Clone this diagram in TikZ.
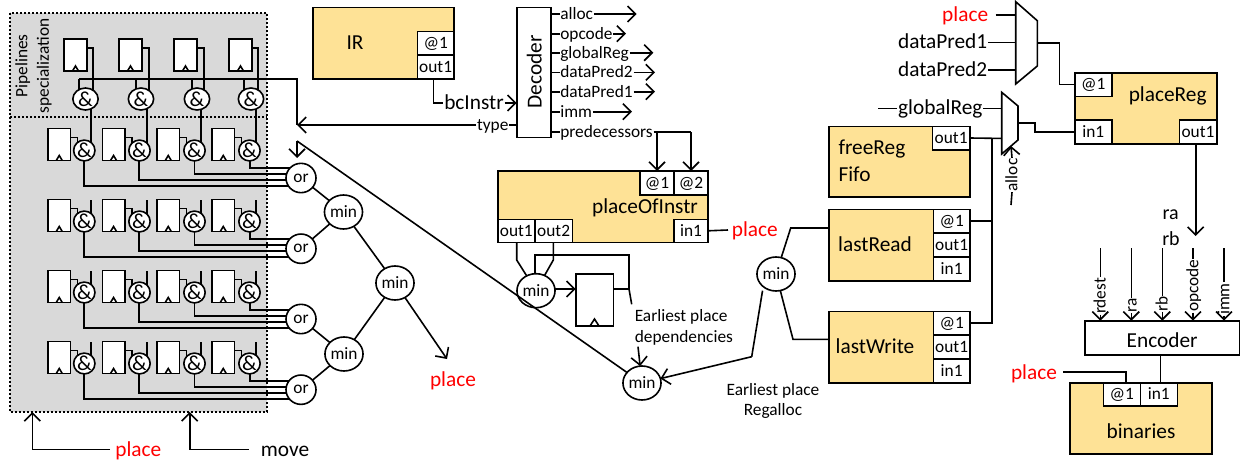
\documentclass[tikz,border=0pt]{standalone}
\usepackage{fontspec}
\setmainfont{Carlito}
\usetikzlibrary{arrows.meta,shapes.geometric}
\pgfdeclarelayer{shade}
\pgfdeclarelayer{wires}
\pgfsetlayers{shade,wires,main}
\definecolor{blockfill}{HTML}{FEE296}
\definecolor{shadefill}{HTML}{D9D9D9}
\newcommand{\boxat}[7][]{%
  \pgfmathsetmacro\bxw{(#5-#3)*0.75}%
  \pgfmathsetmacro\bxh{(#6-#4)*0.75}%
  \pgfmathsetmacro\bxx{(#5+#3)/2}%
  \pgfmathsetmacro\bxy{(#6+#4)/2}%
  \node[#1,minimum width=\bxw pt,minimum height=\bxh pt] (#2) at (\bxx,\bxy) {#7};}
\tikzset{
  lw/.style={line width=1.2pt},
  every path/.style={lw},
  >={Straight Barb[length=6pt,width=12pt]},
  lbl/.style={inner sep=0pt,font=\fontsize{13}{16.25}\selectfont,text height=10pt,text depth=2pt},
  big/.style={inner sep=0pt,font=\fontsize{16}{19}\selectfont,text height=12.5pt,text depth=2.5pt},
  redlbl/.style={big,text=red},
  blockbox/.style={draw,fill=blockfill,inner sep=0pt,outer sep=0pt},
  portbox/.style={draw,fill=white,inner sep=0pt,outer sep=0pt,font=\fontsize{13}{16}\selectfont,text height=10pt,text depth=2pt},
  regbox/.style={draw,fill=white,inner sep=0pt,outer sep=0pt},
  whitebox/.style={draw,fill=white,inner sep=0pt,outer sep=0pt,font=\fontsize{16}{19}\selectfont,text height=14pt,text depth=0pt},
  andgate/.style={draw,fill=white,ellipse,inner sep=0pt,outer sep=0pt,font=\fontsize{16}{19}\selectfont},
  orgate/.style={draw,fill=white,ellipse,inner sep=0pt,outer sep=0pt,minimum width=22.5pt,minimum height=22pt,font=\fontsize{13}{16}\selectfont},
  mingate/.style={draw,fill=white,ellipse,inner sep=0pt,outer sep=0pt,minimum width=27pt,minimum height=25.5pt,font=\fontsize{13}{16}\selectfont},
  muxbody/.style={draw,fill=white,line join=miter}
}
\begin{document}
\begin{tikzpicture}[x=0.75pt,y=-0.75pt]
\useasboundingbox (0,0) rectangle (1247,464);
% shaded area
\begin{pgfonlayer}{shade}
  \draw[fill=shadefill,dash pattern=on 1.6pt off 1.4pt] (10,13) rectangle (267,412);
  \draw[dash pattern=on 1.6pt off 1.4pt] (10,117) -- (267,117);
\end{pgfonlayer}
\node[inner sep=0pt,font=\fontsize{13}{16.25}\selectfont,rotate=90,align=center] (pipes) at (33.5,66) {Pipelines\\specialization};
% bus
\coordinate (busleft) at (79,79);
\coordinate (typetip) at (297,125);
\coordinate (backcorner) at (297,141);
\coordinate (backtip) at (297,158);
\begin{pgfonlayer}{wires}
  \draw (busleft) -- (busleft -| typetip) -- (typetip);
\end{pgfonlayer}
% top row
\foreach \ci/\gx/\ax/\ox/\dx in {1/64/85.5/93/79,2/119/141/149/135.7,3/174/197/204/192,4/229/251/258/243.7}{
  \pgfmathsetmacro\gxe{\gx+23}
  \boxat[regbox]{regT\ci}{\gx}{39}{\gxe}{71}{}
  \draw (regT\ci.south) ++(-3,0) -- ++(3,-5) -- ++(3,5);
  \node[andgate,minimum width=19pt,minimum height=16.5pt] (andT\ci) at (\ax,99) {\&};
  \begin{pgfonlayer}{wires}
    \draw (regT\ci.east |- 0,48) -| (andT\ci.center -| \ox,0);
    \draw (\dx,0 |- busleft) -- (andT\ci.center -| \dx,0);
  \end{pgfonlayer}
}
% or gates
\node[orgate] (or1) at (301,178) {or};
\node[orgate] (or2) at (301,248.7) {or};
\node[orgate] (or3) at (301,319) {or};
\node[orgate] (or4) at (301,389.7) {or};
% lower rows
\foreach \ri/\ry in {1/128.5,2/199.5,3/270.5,4/341.5}{
  \foreach \ci/\gx/\ax/\sx/\lx/\lo in {1/48/84.3/90.7/84/57.5,2/102.3/139.5/146.7/139/51.5,3/157/194.5/201/194.6/45.5,4/212/249.5/256/250/39.5}{
    \pgfmathsetmacro\gxe{\gx+22.5}
    \pgfmathsetmacro\gye{\ry+32}
    \pgfmathsetmacro\ayy{\ry+22}
    \pgfmathsetmacro\yr{\ry+9}
    \pgfmathsetmacro\xr{\gx+29.5}
    \pgfmathsetmacro\yl{\ry+\lo}
    \pgfmathsetmacro\stubtop{\ry+0.5}
    \boxat[regbox]{reg\ri\ci}{\gx}{\ry}{\gxe}{\gye}{}
    \draw (reg\ri\ci.south) ++(-3,0) -- ++(3,-5) -- ++(3,5);
    \node[andgate,minimum width=16pt,minimum height=15pt] (and\ri\ci) at (\ax,\ayy) {\&};
    \begin{pgfonlayer}{wires}
      \draw (reg\ri\ci.east |- 0,\yr) -| (and\ri\ci.center -| \xr,0);
      \draw (and\ri\ci.center -| \lx,0) |- (or\ri.center |- 0,\yl);
      \ifnum\ri=1
        \draw (andT\ci.center -| \sx,0) -- (and\ri\ci.center -| \sx,0);
      \else
        \draw (\sx,\stubtop) -- (and\ri\ci.center -| \sx,0);
      \fi
    \end{pgfonlayer}
  }
}
% min tree
\node[mingate] (min1) at (343.5,212) {min};
\node[mingate] (min2) at (344,354) {min};
\node[mingate] (min3) at (395,283) {min};
\node[redlbl] (placetree) at (453,380) {place};
\coordinate (treetip) at (447,359);
\draw (or1) -- (min1);
\draw (or2) -- (min1);
\draw (or3) -- (min2);
\draw (or4) -- (min2);
\draw (min1) -- (min3);
\draw (min2) -- (min3);
\draw[->] (min3) -- (treetip);
% bottom labels
\node[redlbl] (placebottom) at (138.3,449.5) {place};
\node[big] (movebottom) at (285,449.5) {move};
\coordinate (placeup) at (32.3,412);
\coordinate (moveup) at (189.7,412);
\coordinate (placestop) at (110,449.5);
\coordinate (movestop) at (248.7,449.5);
\draw[->] (placestop) -| (placeup);
\draw[->] (movestop) -| (moveup);
% IR
\boxat[blockbox]{ir}{312.7}{7.3}{454}{78.7}{}
\boxat[portbox]{irat}{417.3}{31.3}{454}{55}{@1}
\boxat[portbox]{irout}{417.3}{55}{454}{78.7}{out1}
\node[big] (irlabel) at (355,43) {IR};
% Decoder
\boxat[whitebox]{decoder}{516.7}{7.3}{550.7}{137.3}{}
\node[big,rotate=90] (decoderlabel) at (535,72) {Decoder};
\node[big] (bcinstr) at (474,103) {bcInstr};
\draw (irout.south -| 433.3,0) |- (bcinstr.west);
\draw[->] (bcinstr.east) -- (decoder.west |- bcinstr);
\node[lbl] (typelabel) at (492.7,125) {type};
\draw (decoder.west |- typelabel) -- (typelabel.east);
\draw[->] (typelabel.west) -- (typetip);
\foreach \nm/\yy/\tx in {alloc/14/636.7,opcode/33.7/626,globalReg/52.7/653.3,dataPred2/72.3/655,dataPred1/91.7/655,imm/111.7/632}{
  \node[lbl,anchor=west] (dec\nm) at (559.5,\yy) {\nm};
  \coordinate (tip\nm) at (\tx,\yy);
  \draw (decoder.east |- dec\nm) -- (dec\nm.west);
  \draw[->] (dec\nm.east) -- (tip\nm);
}
\node[lbl,anchor=west] (decpred) at (559.5,132) {predecessors};
\draw (decoder.east |- decpred) -- (decpred.west);
% placeOfInstr
\boxat[blockbox]{poi}{497.7}{171}{708}{242.3}{}
\boxat[portbox]{poia}{640}{171}{674}{194.7}{@1}
\boxat[portbox]{poib}{674}{171}{708}{194.7}{@2}
\boxat[portbox]{poiin}{674}{219.3}{708}{242.3}{in1}
\boxat[portbox]{poio}{497.7}{219.3}{535}{242.3}{out1}
\boxat[portbox]{poip}{535}{219.3}{572.3}{242.3}{out2}
\node[big] (poilabel) at (645,206.7) {placeOfInstr};
\draw (decpred.east) -- (decpred.east -| poib.north);
\draw[->] (decpred.east -| poib.north) -- (poib.north);
\draw[->] (decpred.east -| poia.north) -- (poia.north);
\node[redlbl,anchor=west] (placepoi) at (731,230) {place};
\coordinate (poistop) at (728,230);
\draw (poiin.east) -- (poistop);
% min5 and its register
\node[mingate] (min5) at (536,290.7) {min};
\boxat[regbox]{depreg}{575.7}{273.7}{613.3}{326}{}
\draw (depreg.south) ++(-4.5,0) -- ++(4.5,-7) -- ++(4.5,7);
\coordinate (outa) at (516.7,260);
\coordinate (outb) at (553.3,260);
\coordinate (feedtop) at (629,255);
\coordinate (feedjoin) at (629,289);
\coordinate (feedtail) at (631.7,304.3);
\coordinate (feedend) at (535,255);
\begin{pgfonlayer}{wires}
  \draw (poio.south -| outa) -- (outa) -- (min5);
  \draw (poip.south -| outb) -- (outb) -- (min5);
  \draw (depreg.east |- feedjoin) -- (feedjoin) -- (feedtop) -- (feedend) -- (min5.center -| feedend);
  \draw (feedjoin) -- (feedtail);
\end{pgfonlayer}
\draw[->] (min5.east |- 0,289) -- (depreg.west |- 0,289);
\node[inner sep=0pt,font=\fontsize{13}{15.5}\selectfont,align=left,anchor=north west] (deplabel) at (634,309) {Earliest place\\dependencies};
% min4, min6
\node[mingate] (min4) at (642,383) {min};
\node[mingate] (min6) at (776,274) {min};
\coordinate (depstart) at (638,346.7);
\draw[->] (depstart) -- (min4);
\draw (min4) -- (backcorner);
\draw[->] (backcorner) -- (backtip);
\coordinate (regbend) at (751.7,356.7);
\draw (min6.south west |- 0,290.7) -- (regbend);
\draw[->] (regbend) -- (min4);
\node[inner sep=0pt,font=\fontsize{13}{15.5}\selectfont,align=center] (reglabel) at (773,401) {Earliest place\\Regalloc};
% lastRead / lastWrite / freeReg
\boxat[blockbox]{free}{829}{126.3}{970}{197}{}
\boxat[portbox]{freeout}{932.3}{126.3}{970}{149.7}{out1}
\node[big,anchor=west] (freelabela) at (837.7,148.3) {freeReg};
\node[big,anchor=west] (freelabelb) at (837.7,175) {Fifo};
\boxat[blockbox]{lr}{829}{209.3}{970}{280.7}{}
\boxat[portbox]{lra}{933.3}{209.3}{970}{232.7}{@1}
\boxat[portbox]{lro}{933.3}{232.7}{970}{256.7}{out1}
\boxat[portbox]{lri}{933.3}{256.7}{970}{280.7}{in1}
\node[big] (lrlabel) at (875,245) {lastRead};
\boxat[blockbox]{lw}{829}{311.3}{970}{382.7}{}
\boxat[portbox]{lwa}{933.3}{311.3}{970}{335}{@1}
\boxat[portbox]{lwo}{933.3}{335}{970}{358.7}{out1}
\boxat[portbox]{lwi}{933.3}{358.7}{970}{382.7}{in1}
\node[big] (lwlabel) at (875,347) {lastWrite};
\coordinate (rbend) at (790.7,228);
\coordinate (wbend) at (793,339.3);
\begin{pgfonlayer}{wires}
  \draw (min6) -- (rbend) -- (lr.west |- rbend);
  \draw (min6) -- (wbend) -- (lw.west |- wbend);
\end{pgfonlayer}
% upper mux
\coordinate (ma) at (1015.7,1.7);
\coordinate (mb) at (1037.3,20.7);
\coordinate (mc) at (1037.3,66);
\coordinate (md) at (1015.7,84);
\draw[muxbody] (ma) -- (mb) -- (mc) -- (md) -- cycle;
\node[redlbl,anchor=east] (muxplace) at (989,14.7) {place};
\node[big,anchor=east] (muxda) at (988,42.3) {dataPred1};
\node[big,anchor=east] (muxdb) at (988,70) {dataPred2};
\coordinate (muxplacestart) at (995.7,14.7);
\draw (muxplacestart) -- (muxplacestart -| ma);
\draw (muxda.east) -- (muxda.east -| ma);
\draw (muxdb.east) -- (muxdb.east -| ma);
% placeReg
\boxat[blockbox]{pr}{1075}{72.7}{1216.7}{143.7}{}
\boxat[portbox]{pra}{1075}{72.7}{1111.7}{96.3}{@1}
\boxat[portbox]{pri}{1075}{120}{1111.7}{143.7}{in1}
\boxat[portbox]{pro}{1179.3}{120}{1216.7}{143.7}{out1}
\node[big] (prlabel) at (1167.7,95) {placeReg};
\coordinate (muxout) at (1037.3,42.7);
\draw (muxout) -| (1059.3,0 |- pra.west) -- (pra.west);
% lower mux
\coordinate (na) at (1001.7,92.3);
\coordinate (nb) at (1018,106);
\coordinate (nc) at (1018,140);
\coordinate (nd) at (1001.7,154);
\draw[muxbody] (na) -- (nb) -- (nc) -- (nd) -- cycle;
\node[big] (glabel) at (940.3,108.3) {globalReg};
\coordinate (gstart) at (878.3,108.3);
\draw (gstart) -- (glabel.west);
\draw (glabel.east) -- (glabel.east -| na);
\coordinate (fjoin) at (991.7,138.3);
\draw (freeout.east) -- (fjoin) -- (fjoin -| na);
\draw (fjoin) -- (fjoin |- lwa.east) -- (lwa.east);
\draw (lra.east) -- (lra.east -| fjoin);
\coordinate (nout) at (1018,122.7);
\coordinate (nmid) at (1035,122.7);
\draw (nout) -- (nmid) |- (pri.west);
\node[lbl,rotate=90] (alloclabel) at (1012,175) {alloc};
\coordinate (allocstart) at (1011,205);
\coordinate (alloctip) at (1011,146);
\draw (allocstart) -- (alloclabel.west);
\draw[->] (alloclabel.east) -- (alloctip);
% output of placeReg
\coordinate (ratip) at (1195.7,236);
\draw[->] (pro.south -| ratip) -- (ratip);
\node[big,font=\fontsize{15}{18}\selectfont] (ralabel) at (1170.7,213.3) {ra};
\node[big,font=\fontsize{15}{18}\selectfont] (rblabel) at (1171,239.3) {rb};
% Encoder
\boxat[whitebox]{enc}{1085}{320.7}{1239.3}{355}{Encoder}
\foreach \nm/\xx/\yy in {rdest/1100.3/296,ra/1131.3/305.7,rb/1162.3/304,opcode/1193/285.7,imm/1224/299}{
  \node[lbl,rotate=90] (enc\nm) at (\xx,\yy) {\nm};
  \coordinate (start\nm) at (\xx,248.3);
  \draw (start\nm) -- (\xx,0 |- enc\nm.east);
  \draw[->] (\xx,0 |- enc\nm.west) -- (enc.north -| start\nm);
}
% binaries
\boxat[blockbox]{bin}{1070}{382.7}{1211.7}{454}{}
\boxat[portbox]{bina}{1103.3}{382.7}{1140.3}{406}{@1}
\boxat[portbox]{bini}{1140.3}{382.7}{1177.3}{406}{in1}
\node[big] (binlabel) at (1141,431.7) {binaries};
\draw (enc.south -| 1160.3,0) -- (bini.north -| 1160.3,0);
\node[redlbl] (binplace) at (1034,373.3) {place};
\coordinate (binstart) at (1063.3,372);
\coordinate (binturn) at (1125.7,372);
\draw (binstart) -- (binturn) -- (bini.north -| binturn);
\end{tikzpicture}
\end{document}
